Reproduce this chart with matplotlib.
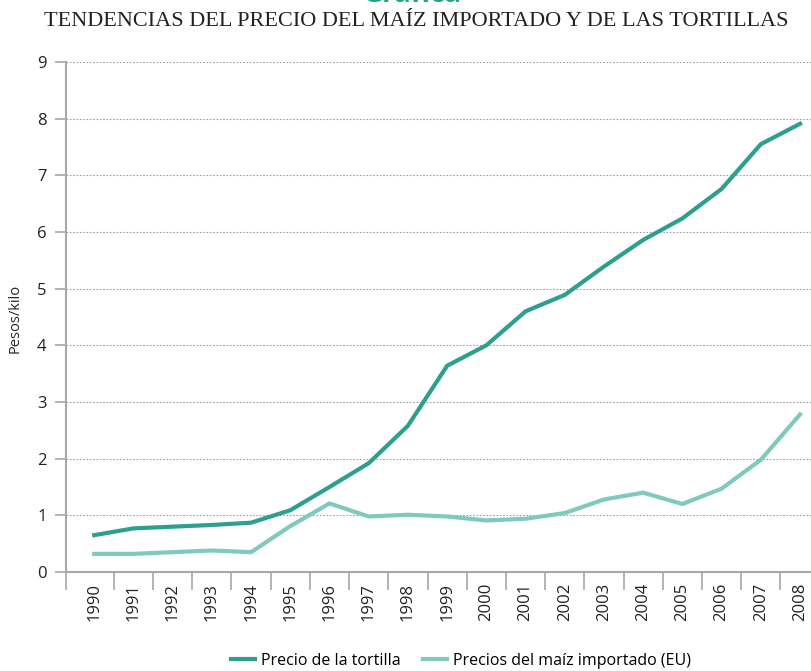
import matplotlib
matplotlib.use("Agg")
import matplotlib.pyplot as plt
import numpy as np

years = list(range(1990, 2009))
year_labels = [str(y) for y in years]
tortilla = [0.65, 0.77, 0.80, 0.83, 0.87, 1.09, 1.50, 1.92, 2.58, 3.64, 4.00,
            4.60, 4.89, 5.39, 5.86, 6.24, 6.76, 7.55, 7.91]
maiz = [0.32, 0.32, 0.35, 0.38, 0.35, 0.81, 1.21, 0.98, 1.01, 0.98, 0.91,
        0.94, 1.04, 1.28, 1.40, 1.20, 1.47, 1.98, 2.78]
series_names = ["Precio de la tortilla", "Precios del maíz importado (EU)"]
title = "TENDENCIAS DEL PRECIO DEL MAÍZ IMPORTADO Y DE LAS TORTILLAS"
header = "Gráfica"
ylabel = "Pesos/kilo"

c_tort = "#2d9f8e"
c_maiz = "#80c9bd"
axis_c = "#a8a8a8"

fig = plt.figure(figsize=(8.11, 6.71), dpi=100)
ax = fig.add_axes([66/811, 1 - 572/671, 1 - 66/811, (572 - 62)/671])

x = np.arange(len(years))
ax.plot(x, tortilla, color=c_tort, lw=3, label=series_names[0], solid_joinstyle="miter", zorder=3)
ax.plot(x, maiz, color=c_maiz, lw=3, label=series_names[1], solid_joinstyle="miter", zorder=3)

ax.set_ylim(0, 9)
ax.set_xlim(-0.72, len(years) - 1 + 0.28)
ax.set_yticks(range(0, 10))
ax.tick_params(axis="y", length=8, width=1.2, color=axis_c, labelsize=12, pad=6, labelcolor="#222222")
for lab in ax.get_yticklabels():
    lab.set_fontfamily("Open Sans")

# category boundaries as ticks, labels at centers
bounds = [-0.72] + [i + 0.5 for i in range(len(years) - 1)]
ax.set_xticks(bounds)
ax.set_xticklabels([])
ax.tick_params(axis="x", which="major", length=13, width=1.2, color=axis_c)
ax.set_xticks(x, minor=True)
ax.set_xticklabels(year_labels, minor=True, rotation=90, fontsize=12,
                   fontfamily="Open Sans", color="#222222")
ax.tick_params(axis="x", which="minor", length=0, pad=8)

ax.grid(axis="y", linestyle=(0, (1.5, 1.5)), color="#a0a0a0", lw=0.8)
ax.set_axisbelow(True)
for s in ["top", "right"]:
    ax.spines[s].set_visible(False)
for s in ["left", "bottom"]:
    ax.spines[s].set_color(axis_c)
    ax.spines[s].set_linewidth(1.5)
ax.spines["left"].set_bounds(0, 9)

fig.text(15/811, 1 - 318/671, ylabel, rotation=90, ha="center", va="center",
         fontsize=10.5, fontfamily="Open Sans", color="#222222")

fig.text(416/811, 1 - 22/671, title, ha="center", va="center", fontsize=16,
         fontfamily="Liberation Serif", color="#222222")
fig.text(412/811, 1 - 2/671, header, ha="center", va="baseline", fontsize=20,
         fontweight="bold", fontfamily="Open Sans", color="#20a386")

leg = fig.legend(loc="center", bbox_to_anchor=(461/811, 1 - 661/671), ncol=2,
                 frameon=False, handlelength=1.5, handletextpad=0.35, columnspacing=1.4,
                 prop={"family": "Open Sans", "size": 11.5})

fig.savefig("out.png", dpi=100)
